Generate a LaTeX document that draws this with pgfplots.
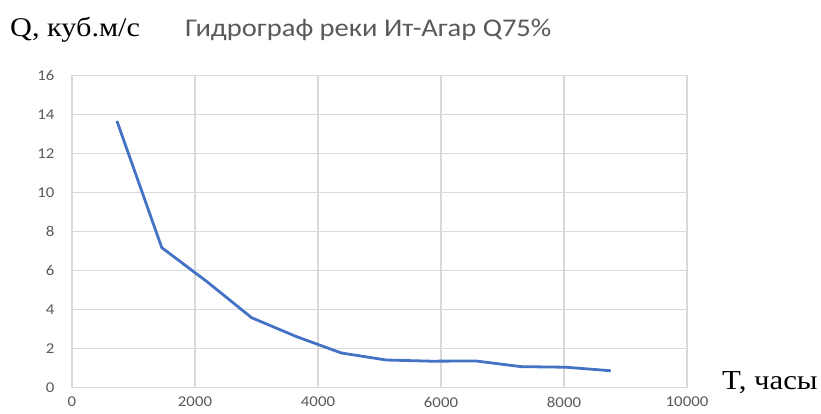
\documentclass[border=0pt]{standalone}
\usepackage{fontspec}
\usepackage{pgfplots}
\pgfplotsset{compat=1.18}
\setmainfont{Liberation Serif}
\newfontfamily\tickfont[FakeStretch=1.12]{Carlito}
\newfontfamily\titlefont[FakeStretch=1.12]{Carlito}
\newfontfamily\serifw[FakeStretch=1.12]{Liberation Serif}
\definecolor{exblue}{RGB}{68,114,196}
\definecolor{exgray}{RGB}{89,89,89}
\definecolor{exgrid}{RGB}{217,217,217}
\begin{document}
\begin{tikzpicture}
\path[use as bounding box] (0,0) rectangle (821pt,414pt);
\begin{axis}[
  at={(72pt,26.3pt)}, anchor=south west,
  width=615pt, height=312pt, scale only axis,
  xmin=0, xmax=10000, ymin=0, ymax=16,
  xtick={0,2000,...,10000}, ytick={0,2,...,16},
  scaled x ticks=false, scaled y ticks=false,
  grid=major, major grid style={exgrid, line width=1.2pt},
  axis line style={exgrid, line width=1.2pt},
  major tick length=0pt,
  /pgf/number format/assume math mode=true,
  /pgf/number format/1000 sep={},
  tick label style={font=\tickfont\fontsize{15}{18}\selectfont, text=exgray},
  yticklabel style={xshift=-14pt},
  xticklabel style={yshift=-6pt},
  clip=false,
]
\addplot[exblue, line width=2.8pt] coordinates {
(730,13.68) (1460,7.18) (2190,5.45) (2920,3.59) (3650,2.62) (4380,1.78)
(5110,1.42) (5840,1.36) (6570,1.37) (7300,1.08) (8030,1.05) (8760,0.87)
};
\end{axis}
\node[anchor=west, inner sep=0pt] at (10pt,384pt) {\serifw\fontsize{27}{30}\selectfont Q, куб.м/с};
\node[anchor=west, inner sep=0pt, text=exgray] at (185pt,384pt) {\titlefont\fontsize{25.5}{29}\selectfont Гидрограф реки Ит-Агар Q75\%};
\node[anchor=west, inner sep=0pt] at (722pt,31pt) {\serifw\fontsize{27.5}{30}\selectfont T, часы};
\end{tikzpicture}
\end{document}
